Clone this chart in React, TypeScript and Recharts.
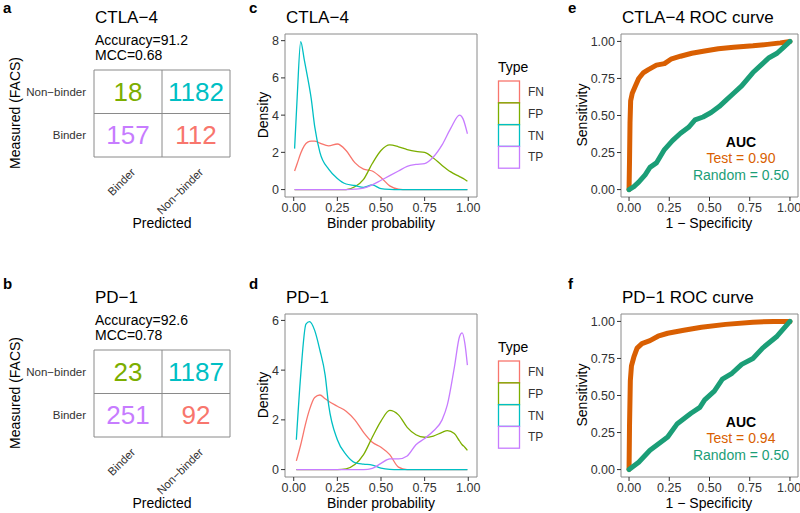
import {
  ScatterChart,
  Scatter,
  LineChart,
  Line,
  XAxis,
  YAxis,
  ReferenceLine,
  ReferenceArea,
} from 'recharts'

// ---- data ----
const TYPES = ['FN', 'FP', 'TN', 'TP']
const TYPE_COLORS = ['#F8766D', '#7CAE00', '#00BFC4', '#C77CFF']
const MATRIX_LABELS = ['Binder', 'Non−binder']

// confusion matrices: [measured non-binder/pred binder, measured non-binder/pred non-binder, measured binder/pred binder, measured binder/pred non-binder]
const ctlaCounts = [18, 1182, 157, 112]
const pd1Counts = [23, 1187, 251, 92]
const ctlaStats = ['Accuracy=91.2', 'MCC=0.68']
const pd1Stats = ['Accuracy=92.6', 'MCC=0.78']

// density curves
const ctlaX = [0.005, 0.02, 0.04, 0.06, 0.08, 0.1, 0.12, 0.15, 0.2, 0.25, 0.3, 0.35, 0.4, 0.45, 0.5, 0.55, 0.6, 0.65, 0.7, 0.75, 0.8, 0.85, 0.9, 0.95, 0.97, 0.995]
const ctlaFN = [1.0, 1.4, 1.95, 2.35, 2.55, 2.6, 2.6, 2.5, 2.35, 2.45, 2.1, 1.45, 1.1, 1.0, 0.65, 0.2, 0.03, 0, 0, 0, 0, 0, 0, 0, 0, 0]
const ctlaFP = [0, 0, 0, 0, 0, 0, 0, 0, 0, 0, 0, 0.15, 0.55, 1.4, 2.1, 2.4, 2.3, 2.15, 2.05, 2.0, 1.7, 1.3, 0.95, 0.7, 0.6, 0.45]
const ctlaTN = [2.2, 5.0, 7.95, 7.0, 6.0, 4.9, 3.4, 2.0, 1.1, 0.6, 0.3, 0.22, 0.12, 0.25, 0.05, 0.01, 0, 0, 0, 0, 0, 0, 0, 0, 0, 0]
const ctlaTP = [0, 0, 0, 0, 0, 0, 0, 0, 0, 0, 0, 0.02, 0.08, 0.25, 0.5, 0.75, 1.0, 1.25, 1.35, 1.4, 1.75, 2.4, 3.3, 4.0, 3.8, 3.0]

const pd1X = [0.015, 0.04, 0.07, 0.09, 0.12, 0.15, 0.18, 0.2, 0.25, 0.3, 0.35, 0.4, 0.45, 0.5, 0.55, 0.6, 0.65, 0.7, 0.75, 0.8, 0.85, 0.88, 0.92, 0.95, 0.965, 0.98, 0.995]
const pd1FN = [0.35, 1.0, 1.9, 2.4, 2.9, 3.0, 2.85, 2.75, 2.55, 2.35, 2.0, 1.5, 1.1, 0.9, 0.6, 0.1, 0, 0, 0, 0, 0, 0, 0, 0, 0, 0, 0]
const pd1FP = [0, 0, 0, 0, 0, 0, 0, 0, 0, 0.03, 0.2, 0.6, 1.3, 1.95, 2.38, 2.2, 1.7, 1.4, 1.3, 1.35, 1.5, 1.57, 1.45, 1.15, 1.0, 0.9, 0.77]
const pd1TN = [1.2, 3.8, 5.85, 5.95, 5.6, 4.8, 3.8, 2.6, 1.2, 0.6, 0.28, 0.22, 0.18, 0.06, 0.01, 0, 0, 0, 0, 0, 0, 0, 0, 0, 0, 0, 0]
const pd1TP = [0, 0, 0, 0, 0, 0, 0, 0, 0, 0, 0, 0, 0.05, 0.25, 0.43, 0.43, 0.55, 1.0, 1.25, 1.55, 2.0, 2.6, 4.1, 5.35, 5.5, 5.1, 4.2]

// ROC curves
const ctlaTestX = [0, 0.003, 0.006, 0.01, 0.02, 0.04, 0.06, 0.09, 0.12, 0.17, 0.22, 0.26, 0.32, 0.39, 0.47, 0.555, 0.65, 0.77, 0.86, 0.94, 1]
const ctlaTestY = [0, 0.2, 0.45, 0.6, 0.65, 0.7, 0.75, 0.79, 0.81, 0.84, 0.85, 0.88, 0.9, 0.92, 0.935, 0.95, 0.96, 0.97, 0.98, 0.99, 1]
const ctlaRandX = [0, 0.03, 0.06, 0.1, 0.13, 0.17, 0.22, 0.27, 0.32, 0.37, 0.41, 0.46, 0.51, 0.56, 0.6, 0.65, 0.7, 0.77, 0.82, 0.87, 0.92, 0.96, 1]
const ctlaRandY = [0, 0.02, 0.05, 0.1, 0.15, 0.18, 0.27, 0.33, 0.38, 0.42, 0.47, 0.49, 0.52, 0.56, 0.6, 0.65, 0.7, 0.79, 0.84, 0.89, 0.92, 0.96, 1]
const pd1TestX = [0, 0.003, 0.008, 0.015, 0.03, 0.05, 0.08, 0.13, 0.18, 0.24, 0.34, 0.45, 0.6, 0.77, 0.9, 1]
const pd1TestY = [0, 0.3, 0.6, 0.7, 0.76, 0.82, 0.85, 0.87, 0.9, 0.92, 0.94, 0.96, 0.98, 0.995, 1, 1]
const pd1RandX = [0, 0.06, 0.13, 0.24, 0.3, 0.385, 0.44, 0.47, 0.53, 0.58, 0.64, 0.7, 0.77, 0.83, 0.92, 1]
const pd1RandY = [0, 0.05, 0.13, 0.22, 0.31, 0.38, 0.42, 0.47, 0.53, 0.61, 0.65, 0.71, 0.75, 0.82, 0.9, 1]
const ctlaAuc = ['0.90', '0.50']
const pd1Auc = ['0.94', '0.50']

const TEST_COLOR = '#D95F02'
const RANDOM_COLOR = '#1B9E77'
const BORDER = '#8a8a8a'
const TICK = { fill: '#333', fontSize: 12.5 }
const FONT = '"Liberation Sans", Arial, sans-serif'

const zip = (xs: number[], ys: number[]) => xs.map((x, i) => ({ x, y: ys[i] }))

function MatrixTick({ x, y, payload }: any) {
  const label = payload.value < 1 ? MATRIX_LABELS[0] : MATRIX_LABELS[1]
  const px = x + 8
  const py = y + 8
  return (
    <text x={px} y={py} textAnchor="end" fontSize={11.5} fill="#333" transform={`rotate(-45 ${px} ${py})`}>
      {label}
    </text>
  )
}

function CellText({ cx, cy, payload }: any) {
  return (
    <text x={cx} y={cy + 9} textAnchor="middle" fontSize={26} fill={payload.color}>
      {payload.v}
    </text>
  )
}

function MatrixPanel({ top, counts }: { top: number; counts: number[] }) {
  // cell colours follow the density types: FP, TN, TP, FN
  const cells = [
    { x: 0.5, y: 1.5, v: counts[0], color: TYPE_COLORS[1] },
    { x: 1.5, y: 1.5, v: counts[1], color: TYPE_COLORS[2] },
    { x: 0.5, y: 0.5, v: counts[2], color: TYPE_COLORS[3] },
    { x: 1.5, y: 0.5, v: counts[3], color: TYPE_COLORS[0] },
  ]
  return (
    <div style={{ position: 'absolute', left: 0, top }}>
      <ScatterChart width={260} height={250} margin={{ top: 70, right: 30, bottom: 53, left: 24 }}>
        <XAxis type="number" dataKey="x" domain={[0, 2]} ticks={[0.5, 1.5]} axisLine={false} tickLine={false} height={40} tick={<MatrixTick />} />
        <YAxis
          type="number"
          dataKey="y"
          domain={[0, 2]}
          ticks={[0.5, 1.5]}
          axisLine={false}
          tickLine={false}
          width={70}
          tick={{ fill: '#333', fontSize: 11.5 }}
          tickFormatter={(v: number) => (v < 1 ? MATRIX_LABELS[0] : MATRIX_LABELS[1])}
        />
        <ReferenceArea x1={0} x2={2} y1={0} y2={2} fill="none" stroke={BORDER} strokeWidth={1} />
        <ReferenceLine x={1} stroke={BORDER} />
        <ReferenceLine y={1} stroke={BORDER} />
        <Scatter data={cells} shape={<CellText />} isAnimationActive={false} />
      </ScatterChart>
    </div>
  )
}

function DensityPanel({ top, xs, series, yMax, yTicks }: { top: number; xs: number[]; series: number[][]; yMax: number; yTicks: number[] }) {
  const rows = xs.map((x, i) => {
    const r: Record<string, number> = { x }
    TYPES.forEach((t, k) => (r[t] = series[k][i]))
    return r
  })
  const pad = yMax * 0.05
  return (
    <div style={{ position: 'absolute', left: 260, top }}>
      <LineChart width={290} height={250} data={rows} margin={{ top: 34, right: 73, bottom: 28, left: 5 }}>
        <XAxis
          type="number"
          dataKey="x"
          domain={[-0.05, 1.05]}
          allowDataOverflow
          ticks={[0, 0.25, 0.5, 0.75, 1]}
          tickFormatter={(v: number) => v.toFixed(2)}
          axisLine={false}
          tickSize={4}
          tickLine={{ stroke: '#333' }}
          tick={TICK}
          height={25}
        />
        <YAxis
          type="number"
          domain={[-pad, yMax + pad]}
          allowDataOverflow
          ticks={yTicks}
          axisLine={false}
          tickSize={4}
          tickLine={{ stroke: '#333' }}
          tick={TICK}
          width={20}
        />
        <ReferenceArea x1={-0.05} x2={1.05} y1={-pad} y2={yMax + pad} fill="none" stroke={BORDER} />
        {TYPES.map((t, k) => (
          <Line key={t} type="monotone" dataKey={t} stroke={TYPE_COLORS[k]} strokeWidth={1.3} dot={false} isAnimationActive={false} />
        ))}
      </LineChart>
    </div>
  )
}

function RocPanel({ top, test, rand }: { top: number; test: { x: number; y: number }[]; rand: { x: number; y: number }[] }) {
  return (
    <div style={{ position: 'absolute', left: 550, top }}>
      <LineChart width={250} height={250} margin={{ top: 34, right: 2, bottom: 28, left: 41 }}>
        <XAxis
          type="number"
          dataKey="x"
          domain={[-0.05, 1.05]}
          allowDataOverflow
          ticks={[0, 0.25, 0.5, 0.75, 1]}
          tickFormatter={(v: number) => v.toFixed(2)}
          axisLine={false}
          tickSize={4}
          tickLine={{ stroke: '#333' }}
          tick={TICK}
          height={25}
        />
        <YAxis
          type="number"
          domain={[-0.05, 1.05]}
          allowDataOverflow
          ticks={[0, 0.25, 0.5, 0.75, 1]}
          tickFormatter={(v: number) => v.toFixed(2)}
          axisLine={false}
          tickSize={4}
          tickLine={{ stroke: '#333' }}
          tick={TICK}
          width={30}
        />
        <ReferenceArea x1={-0.05} x2={1.05} y1={-0.05} y2={1.05} fill="none" stroke={BORDER} />
        <Line data={test} dataKey="y" type="linear" stroke={TEST_COLOR} strokeWidth={5} strokeLinecap="round" strokeLinejoin="round" dot={false} isAnimationActive={false} />
        <Line data={rand} dataKey="y" type="linear" stroke={RANDOM_COLOR} strokeWidth={5} strokeLinecap="round" strokeLinejoin="round" dot={false} isAnimationActive={false} />
      </LineChart>
    </div>
  )
}

function Annotations({ dy, title, stats, auc, letterDy }: { dy: number; title: string; stats: string[]; auc: string[]; letterDy: number }) {
  return (
    <g>
      {/* panel letters */}
      <text x={3} y={13 + letterDy} fontWeight="bold" fontSize={15}>{letterDy ? 'b' : 'a'}</text>
      <text x={249} y={13 + letterDy} fontWeight="bold" fontSize={15}>{letterDy ? 'd' : 'c'}</text>
      <text x={568} y={13 + letterDy} fontWeight="bold" fontSize={15}>{letterDy ? 'f' : 'e'}</text>
      {/* matrix */}
      <text x={95} y={23 + dy} fontSize={17}>{title}</text>
      <text x={95} y={44.5 + dy} fontSize={14}>{stats[0]}</text>
      <text x={95} y={60 + dy} fontSize={14}>{stats[1]}</text>
      <text x={0} y={0} fontSize={14} textAnchor="middle" transform={`translate(20 ${113 + dy}) rotate(-90)`}>Measured (FACS)</text>
      <text x={162} y={228 + dy} fontSize={14} textAnchor="middle">Predicted</text>
      {/* density */}
      <text x={286} y={23 + dy} fontSize={17}>{title}</text>
      <text x={0} y={0} fontSize={14} textAnchor="middle" transform={`translate(268 ${115 + dy}) rotate(-90)`}>Density</text>
      <text x={381} y={228 + dy} fontSize={14} textAnchor="middle">Binder probability</text>
      <text x={498} y={72 + dy} fontSize={14}>Type</text>
      {TYPES.map((t, k) => (
        <g key={t}>
          <rect x={498.5} y={81 + k * 21.8 + dy} width={21} height={21.8} fill="none" stroke={TYPE_COLORS[k]} strokeWidth={1.3} />
          <text x={528} y={96 + k * 21.8 + dy} fontSize={12} fill="#333">{t}</text>
        </g>
      ))}
      {/* roc */}
      <text x={622} y={23 + dy} fontSize={17}>{title} ROC curve</text>
      <text x={0} y={0} fontSize={14} textAnchor="middle" transform={`translate(587 ${115 + dy}) rotate(-90)`}>Sensitivity</text>
      <text x={709} y={228 + dy} fontSize={14} textAnchor="middle">1 − Specificity</text>
      <text x={741} y={147 + dy} fontSize={14} fontWeight="bold" textAnchor="middle">AUC</text>
      <text x={741} y={163 + dy} fontSize={14} fill={TEST_COLOR} textAnchor="middle">Test = {auc[0]}</text>
      <text x={741} y={180 + dy} fontSize={14} fill={RANDOM_COLOR} textAnchor="middle">Random = {auc[1]}</text>
    </g>
  )
}

export default function App() {
  return (
    <div style={{ position: 'absolute', left: 0, top: 0, width: 800, height: 513, background: '#fff', fontFamily: FONT, overflow: 'hidden' }}>
      <MatrixPanel top={0} counts={ctlaCounts} />
      <MatrixPanel top={280} counts={pd1Counts} />
      <DensityPanel top={0} xs={ctlaX} series={[ctlaFN, ctlaFP, ctlaTN, ctlaTP]} yMax={7.96} yTicks={[0, 2, 4, 6, 8]} />
      <DensityPanel top={280} xs={pd1X} series={[pd1FN, pd1FP, pd1TN, pd1TP]} yMax={5.96} yTicks={[0, 2, 4, 6]} />
      <RocPanel top={0} test={zip(ctlaTestX, ctlaTestY)} rand={zip(ctlaRandX, ctlaRandY)} />
      <RocPanel top={280} test={zip(pd1TestX, pd1TestY)} rand={zip(pd1RandX, pd1RandY)} />
      <svg width={800} height={513} style={{ position: 'absolute', left: 0, top: 0, pointerEvents: 'none', fontFamily: FONT }}>
        <Annotations dy={0} letterDy={0} title="CTLA−4" stats={ctlaStats} auc={ctlaAuc} />
        <Annotations dy={280} letterDy={276} title="PD−1" stats={pd1Stats} auc={pd1Auc} />
      </svg>
    </div>
  )
}
